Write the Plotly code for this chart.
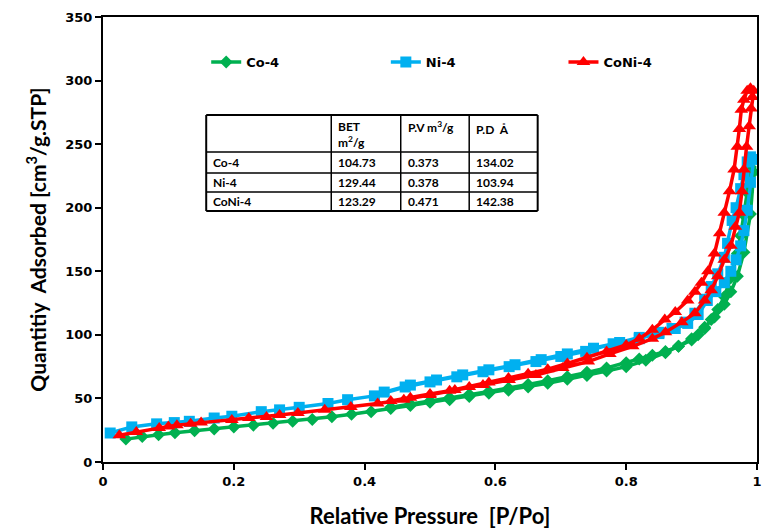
import plotly.graph_objects as go

# ---------------- data ----------------
co4_ads_x = [0.035,0.06,0.085,0.11,0.14,0.17,0.20,0.23,0.26,0.29,0.32,0.35,0.38,0.41,0.44,0.47,0.50,0.53,0.56,0.59,0.62,0.65,0.68,0.71,0.74,0.77,0.80,0.83,0.86,0.88,0.90,0.92,0.935,0.95,0.96,0.97,0.98,0.99,0.995]
co4_ads_y = [18,20,21.5,23,24.5,26,27.5,29,30.5,32,33.5,35.5,37.5,39.5,42,44.5,47,49,51.5,54,56.5,59,62,65,68,71.5,75,80,86,91,97,106,114,124,134,146,165,195,228]
co4_des_x = [0.99,0.985,0.98,0.975,0.97,0.96,0.95,0.94,0.93,0.92,0.91,0.90,0.88,0.86,0.84,0.82,0.80,0.77,0.74,0.71,0.68,0.65,0.62,0.59,0.56,0.53,0.50,0.47,0.44]
co4_des_y = [232,212,194,178,164,145,130,120,112,105,100,96,91,87,84,81,78,74,70.5,67,64,61,58,55.5,53,50.5,48,45.5,43]

ni4_ads_x = [0.011,0.044,0.082,0.109,0.132,0.17,0.197,0.242,0.27,0.30,0.344,0.374,0.415,0.462,0.50,0.541,0.581,0.621,0.662,0.70,0.738,0.78,0.82,0.85,0.875,0.894,0.91,0.924,0.937,0.95,0.96,0.968,0.975,0.98,0.985,0.99,0.995]
ni4_ads_y = [22.8,27.6,30,31,32,34.6,36,39.6,41,43,46,49,52,59,63,67,71,75,79,83,87,93,97,101,105,109,116,127,134,141,150,159,170,182,198,220,238]
ni4_des_x = [0.99,0.985,0.98,0.975,0.968,0.962,0.955,0.95,0.94,0.93,0.92,0.905,0.89,0.87,0.85,0.82,0.79,0.75,0.71,0.67,0.63,0.59,0.55,0.51,0.47,0.43]
ni4_des_y = [240,236,226,215,200,190,172,161,148,138,128,117,110,105,102,98,94,89.5,85,80.5,76.5,72.5,68.5,64.5,60.5,55]

coni4_ads_x = [0.025,0.051,0.086,0.10,0.113,0.134,0.15,0.197,0.223,0.25,0.27,0.298,0.339,0.379,0.42,0.46,0.50,0.538,0.581,0.621,0.662,0.703,0.742,0.775,0.81,0.84,0.86,0.885,0.905,0.92,0.93,0.94,0.95,0.96,0.967,0.973,0.977,0.98,0.984,0.988,0.991,0.993,0.995]
coni4_ads_y = [21,23.6,26.7,28,29,30,31,33,34.6,35.4,37,38.5,41,43.3,46,49,52.7,56.6,60.6,64.5,68.4,74,79,85,91,97,102,110,117,127,135,146,159,170,185,196,213,230,248,264,278,287,292]
coni4_des_x = [0.99,0.985,0.98,0.976,0.973,0.97,0.965,0.958,0.95,0.943,0.935,0.925,0.915,0.905,0.894,0.875,0.859,0.84,0.82,0.80,0.77,0.74,0.71,0.68,0.65,0.62,0.59,0.56,0.53,0.50,0.47,0.44]
coni4_des_y = [294,292,285,277,262,248,230,213,196,180,164,150,141,134,127,118,112,104,97,92,87,82,77.5,73,69.5,66,62.5,59,56,53.5,50.5,48]

series_names = ["Co-4", "Ni-4", "CoNi-4"]
table_header = ["BET<br>m<sup>2</sup>/g", "P.V m<sup>3</sup>/g", "P.D  Å"]
table_rows = ["Co-4", "Ni-4", "CoNi-4"]
bet_vals = ["104.73", "129.44", "123.29"]
pv_vals = ["0.373", "0.378", "0.471"]
pd_vals = ["134.02", "103.94", "142.38"]

x_ticks = [0, 0.2, 0.4, 0.6, 0.8, 1]
x_tick_text = ["0", "0.2", "0.4", "0.6", "0.8", "1"]
y_ticks = [0, 50, 100, 150, 200, 250, 300, 350]

# ---------------- figure ----------------
W, H = 762, 529
ML, MR, MT, MB = 103, 0, 17, 67

styles = [
    dict(color="#00B050", symbol="diamond", size=10),
    dict(color="#00B0F0", symbol="square", size=11),
    dict(color="#FF0000", symbol="triangle-up", size=12),
]
data = [
    (co4_ads_x + co4_des_x, co4_ads_y + co4_des_y),
    (ni4_ads_x + ni4_des_x, ni4_ads_y + ni4_des_y),
    (coni4_ads_x + coni4_des_x, coni4_ads_y + coni4_des_y),
]

pw = W - ML - MR
ph = H - MT - MB
def px(x):
    return (x - ML) / pw
def py(y):
    return (H - MB - y) / ph

legend_ids = ["legend2", "legend3", "legend4"]
legend_px = [207, 388, 567]

fig = go.Figure()
for name, (xs, ys), st, lid in zip(series_names, data, styles, legend_ids):
    fig.add_trace(go.Scatter(
        x=xs, y=ys, name=name, mode="lines+markers", legend=lid, showlegend=True,
        line=dict(color=st["color"], width=3.5),
        marker=dict(color=st["color"], symbol=st["symbol"], size=st["size"], line=dict(width=0)),
    ))

# table shapes
t_left, t_right = 207, 541
col_x = [t_left, 333, 403, 472, t_right]
row_y = [115, 152, 173, 192, 211]
shapes = []
for y in row_y:
    shapes.append(dict(type="line", xref="paper", yref="paper", x0=px(t_left), x1=px(t_right), y0=py(y), y1=py(y),
                       line=dict(color="black", width=2 if y in (row_y[0], row_y[-1]) else 1.5)))
for x in col_x:
    shapes.append(dict(type="line", xref="paper", yref="paper", x0=px(x), x1=px(x), y0=py(row_y[0]), y1=py(row_y[-1]),
                       line=dict(color="black", width=2 if x in (t_left, t_right) else 1.5)))

annotations = []
tfont = dict(family="Lato, Carlito, sans-serif", size=12, color="black", weight="bold")
header_y = [134, 127, 129]
for i, h in enumerate(table_header):
    annotations.append(dict(text=h, xref="paper", yref="paper", x=px(col_x[i + 1] + 5), y=py(header_y[i]),
                            xanchor="left", yanchor="middle", showarrow=False, font=tfont, align="left"))
for r, (lab, b, p, d) in enumerate(zip(table_rows, bet_vals, pv_vals, pd_vals)):
    yc = (row_y[r + 1] + row_y[r + 2]) / 2
    for c, txt in enumerate([lab, b, p, d]):
        annotations.append(dict(text=txt, xref="paper", yref="paper", x=px(col_x[c] + 5), y=py(yc),
                                xanchor="left", yanchor="middle", showarrow=False, font=tfont))

tick_font = dict(family="DejaVu Sans", size=13, color="black", weight="bold")
xtitle_font = dict(family="Lato, sans-serif", size=22, color="black", weight="bold")
ytitle_font = dict(family="Lato, sans-serif", size=21, color="black", weight="bold")

legend_common = dict(orientation="h", yanchor="middle", xanchor="left",
                     font=dict(family="DejaVu Sans", size=13, color="black", weight="bold"),
                     bgcolor="rgba(0,0,0,0)", itemwidth=30)
layout_legends = {lid: dict(legend_common, x=px(lx), y=py(62)) for lid, lx in zip(legend_ids, legend_px)}

fig.update_layout(
    width=W, height=H,
    margin=dict(l=ML, r=MR, t=MT, b=MB),
    paper_bgcolor="white", plot_bgcolor="white",
    shapes=shapes, annotations=annotations,
    showlegend=True,
    **layout_legends,
    xaxis=dict(range=[0, 1], tickvals=x_ticks, ticktext=x_tick_text, showgrid=False, zeroline=False,
               showline=True, linecolor="black", linewidth=2, mirror=True,
               ticks="outside", ticklen=6, tickwidth=2, tickcolor="black",
               tickfont=tick_font, ticklabeloverflow="allow",
               title=dict(text="Relative Pressure  [P/Po]", font=xtitle_font, standoff=22)),
    yaxis=dict(range=[0, 350], tickvals=y_ticks, showgrid=False, zeroline=False,
               showline=True, linecolor="black", linewidth=2, mirror=True,
               ticks="outside", ticklen=6, tickwidth=2, tickcolor="black",
               tickfont=tick_font,
               title=dict(text="Quantitiy  Adsorbed [cm<sup>3</sup>/g.STP]", font=ytitle_font, standoff=13)),
)

fig.write_html("out.html")
